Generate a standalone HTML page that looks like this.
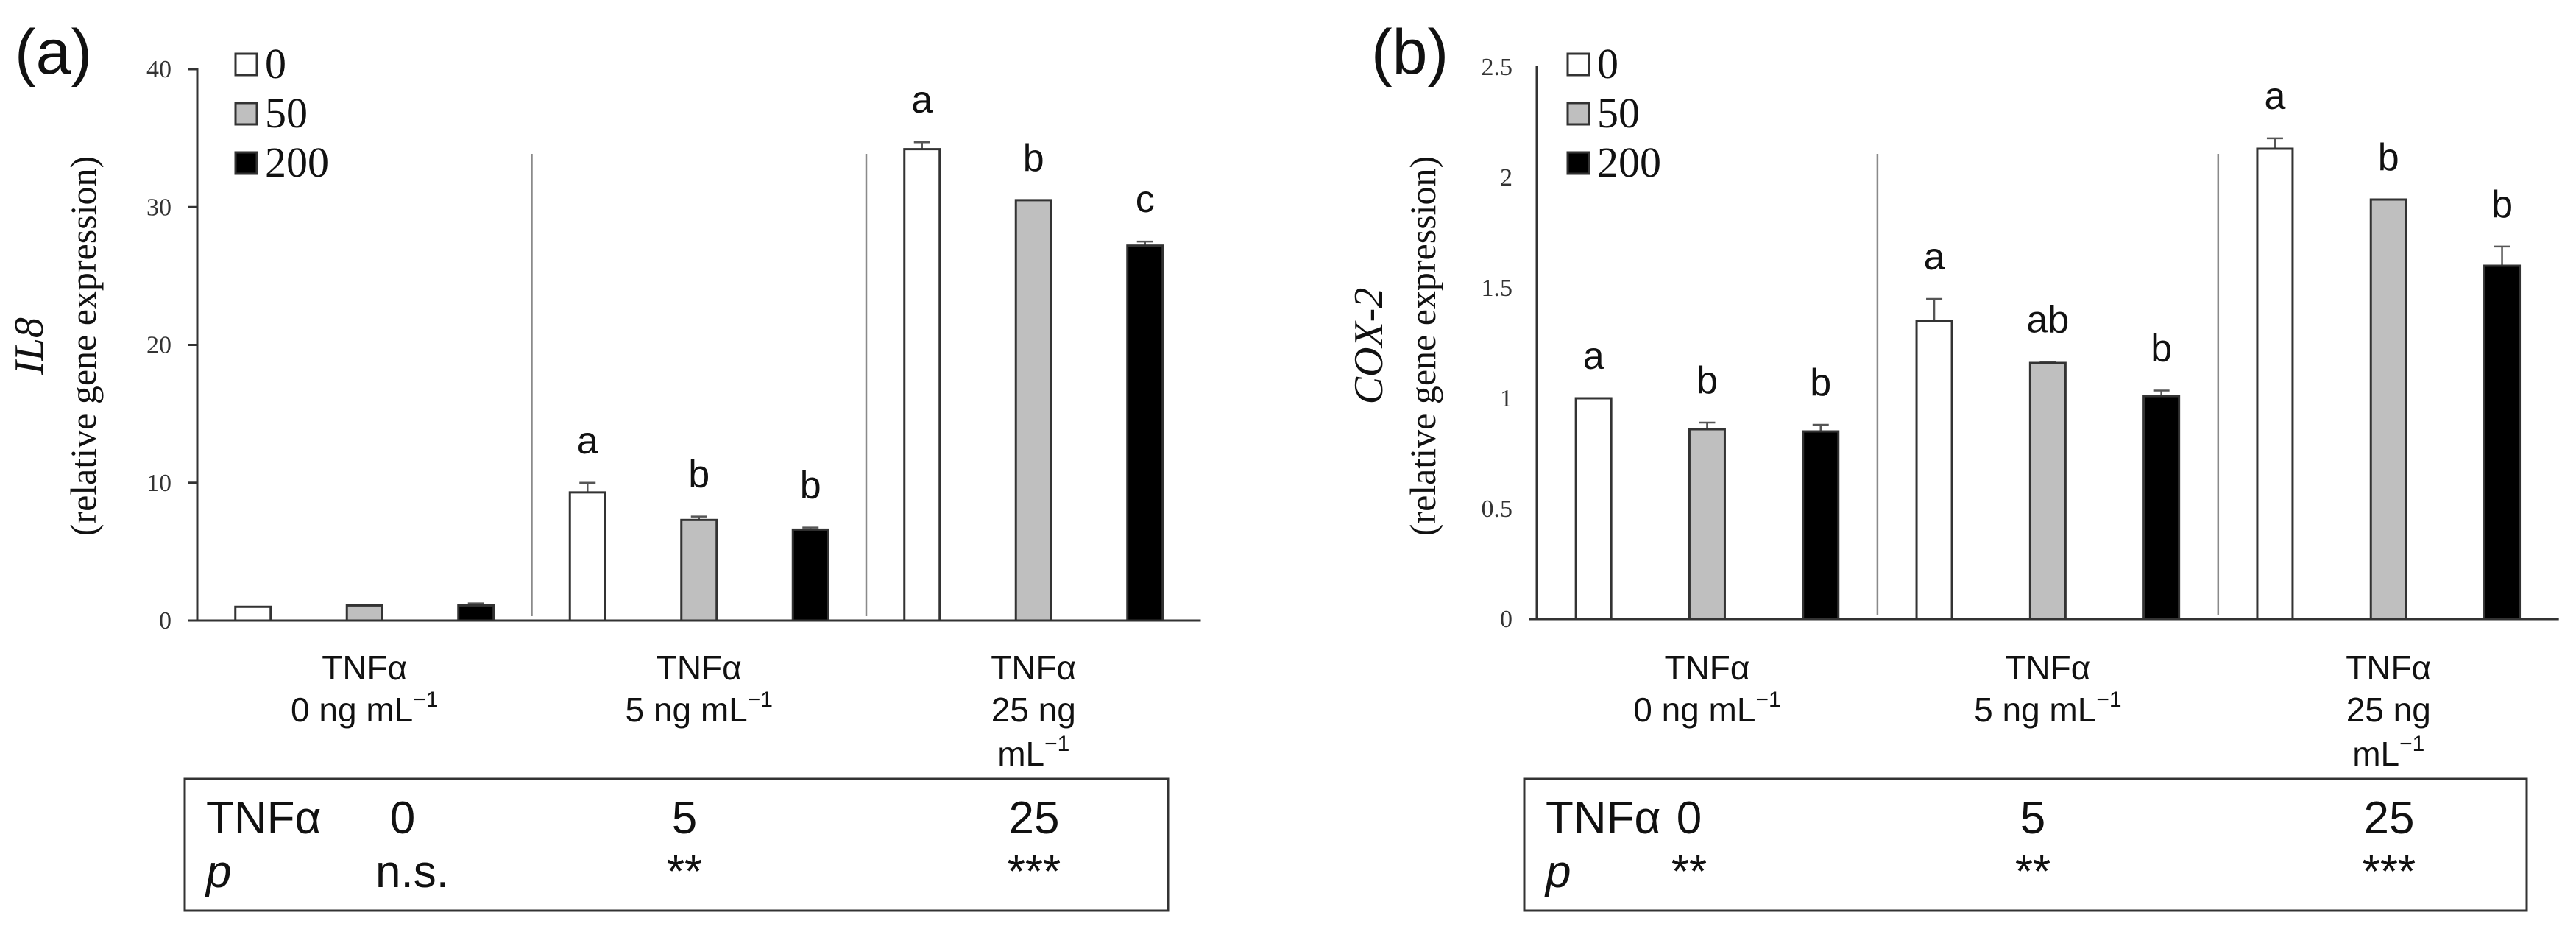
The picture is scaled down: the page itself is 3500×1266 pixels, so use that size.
<!DOCTYPE html>
<html><head><meta charset="utf-8">
<style>
html,body{margin:0;padding:0;background:#fff;}
svg{display:block;}
</style></head>
<body>
<svg id="fig" width="3500" height="1266" viewBox="0 0 3500 1266" xmlns="http://www.w3.org/2000/svg"></svg>
<script>
// ---------- data ----------
const seriesNames = ["0", "50", "200"];
const groupLineA = ["TNFα", "TNFα", "TNFα"];
const groupLineB = ["0 ng mL", "5 ng mL", "25 ng"];
const groupLineC = ["", "", "mL"];
// Panel (a) IL8
const il8Values = [[1.0, 1.1, 1.1], [9.3, 7.3, 6.6], [34.2, 30.5, 27.2]];
const il8ErrTop = [[1.02, 1.15, 1.25], [10.0, 7.55, 6.75], [34.7, 30.5, 27.5]];
const il8Letters = [["", "", ""], ["a", "b", "b"], ["a", "b", "c"]];
const il8Ticks = [0, 10, 20, 30, 40];
const il8TableDose = ["0", "5", "25"];
const il8TableP = ["n.s.", "**", "***"];
// Panel (b) COX-2
const coxValues = [[1.0, 0.86, 0.85], [1.35, 1.16, 1.01], [2.13, 1.9, 1.6]];
const coxErrTop = [[1.0, 0.89, 0.88], [1.45, 1.165, 1.035], [2.177, 1.9, 1.687]];
const coxLetters = [["a", "b", "b"], ["a", "ab", "b"], ["a", "b", "b"]];
const coxTicks = [0, 0.5, 1, 1.5, 2, 2.5];
const coxTableDose = ["0", "5", "25"];
const coxTableP = ["**", "**", "***"];

const NS = "http://www.w3.org/2000/svg";
const svg = document.getElementById("fig");
function mk(tag, attrs, parent) {
  const e = document.createElementNS(NS, tag);
  for (const k in attrs) e.setAttribute(k, attrs[k]);
  (parent || svg).appendChild(e);
  return e;
}
const fills = ["#ffffff", "#bfbfbf", "#000000"];

function drawPanel(p) {
  const g = mk("g", {});
  
  
  const y = v => p.y0 - (v / p.ymax) * (p.y0 - p.yTop);
  const slot = p.slot;
  const xc = (gi, si) => p.ax + (gi * 3 + si + 0.5) * slot;

  const pl = mk("text", {x: p.labelX, y: 100, "font-family": "Liberation Sans, sans-serif", "font-size": 86, fill: "#111"}, g);
  pl.textContent = p.label;
  
  

  const ya = mk("line", {x1: p.ax, y1: p.yTop - 2, x2: p.ax, y2: p.y0, stroke: "#333", "stroke-width": 3}, g);
  
  
  const xa = mk("line", {x1: p.ax - 11, y1: p.y0, x2: p.ax + 9 * slot, y2: p.y0, stroke: "#333", "stroke-width": 3}, g);
  
  

  p.ticks.forEach(t => {
    if (p.tickMarks) {
      const tm = mk("line", {x1: p.ax - 12, y1: y(t), x2: p.ax, y2: y(t), stroke: "#333", "stroke-width": 3}, g);
      
      
    }
    const tl = mk("text", {x: p.ax - p.tickGap, y: y(t) + 11, "text-anchor": "end", "font-family": "Liberation Serif, serif", "font-size": 34, fill: "#333"}, g);
    tl.textContent = String(t);
    
    
  });

  const yt1 = mk("text", {x: 0, y: 0, transform: `translate(${p.ax - 228},${470}) rotate(-90)`, "text-anchor": "middle", "dominant-baseline": "central", "font-family": "Liberation Serif, serif", "font-style": "italic", "font-size": 56, fill: "#111"}, g);
  yt1.textContent = p.gene;
  
  
  const yt2 = mk("text", {x: 0, y: 0, transform: `translate(${p.ax - 155},${470}) rotate(-90)`, "text-anchor": "middle", "dominant-baseline": "central", "font-family": "Liberation Serif, serif", "font-size": 50, fill: "#111"}, g);
  yt2.textContent = "(relative gene expression)";
  
  

  [1, 2].forEach(k => {
    const sx = p.ax + k * 3 * slot;
    const sl = mk("line", {x1: sx, y1: 209, x2: sx, y2: p.y0 - 6, stroke: "#8a8a8a", "stroke-width": 2.5}, g);
    
    
  });

  p.values.forEach((grp, gi) => {
    grp.forEach((v, si) => {
      const cx = xc(gi, si);
      const top = y(v);
      const et = y(p.err[gi][si]);
      if (et < top - 1) {
        const el = mk("path", {d: `M${cx} ${top} V${et} M${cx - 11} ${et} H${cx + 11}`, stroke: "#555", "stroke-width": 2.5, fill: "none"}, g);
        
        
      }
      const r = mk("rect", {x: cx - 24, y: top, width: 48, height: p.y0 - top, fill: fills[si], stroke: "#333", "stroke-width": 3}, g);
      
      
      const L = p.letters[gi][si];
      if (L) {
        const lt = mk("text", {x: cx, y: Math.min(top, et) - 40, "text-anchor": "middle", "font-family": "Liberation Sans, sans-serif", "font-size": 52, fill: "#111"}, g);
        lt.textContent = L;
        
        
      }
    });
    const gx = p.ax + (gi * 3 + 1.5) * slot;
    const lines = [groupLineA[gi], groupLineB[gi], groupLineC[gi]];
    const bases = [923, 980, 1040];
    lines.forEach((txt, li) => {
      if (!txt) return;
      const t = mk("text", {x: gx, y: bases[li], "text-anchor": "middle", "font-family": "Liberation Sans, sans-serif", "font-size": 46, fill: "#111"}, g);
      t.textContent = txt;
      const needSup = (li === 1 && gi < 2) || (li === 2 && gi === 2);
      if (needSup) {
        const ts = mk("tspan", {dy: -20, "font-size": 30}, t);
        ts.textContent = "−1";
      }
      
      
    });
  });

  seriesNames.forEach((n, si) => {
    const ly = 73 + si * 67;
    const lb = mk("rect", {x: p.ax + p.legOff, y: ly, width: 29, height: 29, fill: fills[si], stroke: "#333", "stroke-width": 3}, g);
    
    
    const lt = mk("text", {x: p.ax + p.legOff + 40, y: ly + 33, "font-family": "Liberation Serif, serif", "font-size": 58, fill: "#111"}, g);
    lt.textContent = n;
    
    
  });

  const tb = mk("rect", {x: p.tabL, y: 1058, width: p.tabR - p.tabL, height: 179, fill: "none", stroke: "#333", "stroke-width": 3}, g);
  
  
  const th = mk("text", {x: p.tabL + 29, y: 1132, "font-family": "Liberation Sans, sans-serif", "font-size": 62, fill: "#111"}, g);
  th.textContent = "TNFα";
  
  
  const tp = mk("text", {x: p.tabL + 29, y: 1205, "font-family": "Liberation Sans, sans-serif", "font-style": "italic", "font-size": 62, fill: "#111"}, g);
  tp.textContent = "p";
  
  
  p.tDose.forEach((d, i) => {
    const t1 = mk("text", {x: p.tCols[i], y: 1132, "text-anchor": "middle", "font-family": "Liberation Sans, sans-serif", "font-size": 62, fill: "#111"}, g);
    t1.textContent = d;
    
    
    const t2 = mk("text", {x: p.tCols[i] + (i === 0 && p.tP[i] === "n.s." ? 13 : 0), y: 1205, "text-anchor": "middle", "font-family": "Liberation Sans, sans-serif", "font-size": 62, fill: "#111"}, g);
    t2.textContent = p.tP[i];
    
    
  });
}

drawPanel({name: "panel-a-il8", label: "(a)", labelX: 20, gene: "IL8", ax: 268, y0: 843, yTop: 94, ymax: 40, slot: 151.5,
  ticks: il8Ticks, tickMarks: true, tickGap: 35, values: il8Values, err: il8ErrTop, letters: il8Letters,
  legOff: 52, tabL: 251, tabR: 1587, tCols: [547, 930, 1405], tDose: il8TableDose, tP: il8TableP});
drawPanel({name: "panel-b-cox2", label: "(b)", labelX: 1863, gene: "COX-2", ax: 2088, y0: 841, yTop: 91, ymax: 2.5, slot: 154.3,
  ticks: coxTicks, tickMarks: false, tickGap: 33, values: coxValues, err: coxErrTop, letters: coxLetters,
  legOff: 42, tabL: 2071, tabR: 3433, tCols: [2295, 2762, 3246], tDose: coxTableDose, tP: coxTableP});
</script>
</body></html>
